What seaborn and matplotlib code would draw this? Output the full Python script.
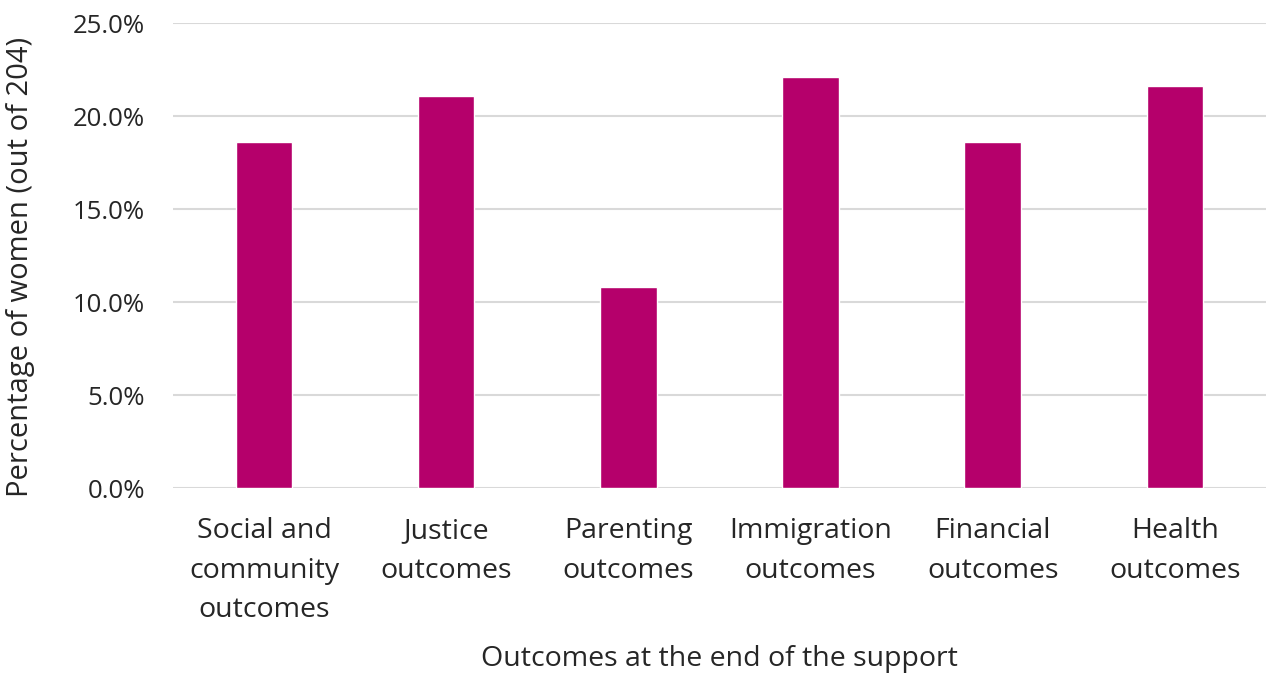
import matplotlib
matplotlib.use("Agg")
import matplotlib.pyplot as plt
import seaborn as sns
import pandas as pd
from matplotlib.ticker import PercentFormatter

categories = ["Social and\ncommunity\noutcomes", "Justice\noutcomes", "Parenting\noutcomes",
              "Immigration\noutcomes", "Financial\noutcomes", "Health\noutcomes"]
values = [18.6, 21.1, 10.8, 22.1, 18.6, 21.6]
yticks = [0, 5, 10, 15, 20, 25]

sns.set_theme(style="white")
plt.rcParams['font.family'] = ['Open Sans', 'DejaVu Sans']

df = pd.DataFrame({"cat": categories, "val": values})
fig = plt.figure(figsize=(12.68, 6.77), dpi=100)
ax = fig.add_axes([0.1364, 0.279, 0.862, 0.687])
sns.barplot(data=df, x="cat", y="val", color="#B5006B", width=0.31, saturation=1, ax=ax)
ax.set_ylim(0, 25)
ax.set_yticks(yticks)
ax.yaxis.set_major_formatter(PercentFormatter(decimals=1))
ax.grid(axis="y", color="#D9D9D9", linewidth=1.5)
ax.set_axisbelow(True)
for s in ax.spines.values():
    s.set_visible(False)
ax.tick_params(axis="y", length=0, labelsize=18.5, colors="#262626", pad=20)
ax.tick_params(axis="x", length=0, labelsize=20.5, colors="#262626", pad=21)
ax.set_xlabel("Outcomes at the end of the support", fontsize=20.5, color="#262626", labelpad=15)
ax.set_ylabel("Percentage of women (out of 204)", fontsize=21, color="#262626")
ax.yaxis.set_label_coords(-0.126, 0.475)
for lab in ax.get_xticklabels():
    lab.set_linespacing(1.55)
fig.savefig("out.png", dpi=100)
